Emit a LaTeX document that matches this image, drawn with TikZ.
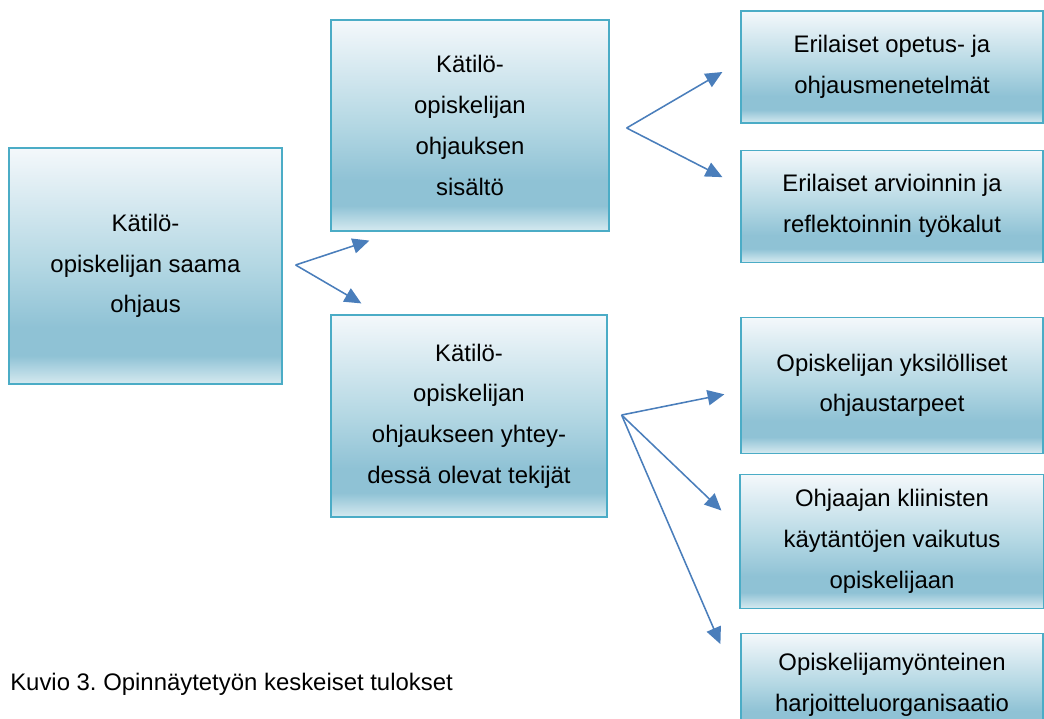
\documentclass[tikz,border=0pt]{standalone}
\usepackage{fontspec}
\setmainfont{Liberation Sans}
\usepackage{tikz}
\usetikzlibrary{arrows.meta, calc, positioning}
\definecolor{boxline}{HTML}{4BACC6}
\definecolor{arrowblue}{HTML}{4A7EBB}
\definecolor{shtop}{HTML}{F4F8FB}
\definecolor{shmid}{HTML}{B3D7E3}
\definecolor{shdark}{HTML}{8FC2D5}
\definecolor{shbot}{HTML}{D6EAF0}
\pgfdeclareverticalshading{boxshade}{100bp}{color(0bp)=(shbot); color(25bp)=(shbot);
    color(31bp)=(shdark); color(37bp)=(shdark); color(50bp)=(shmid); color(75bp)=(shtop);
    color(100bp)=(shtop)}
\tikzset{
    box/.style={rectangle, draw=boxline, line width=0.8pt, shade, shading=boxshade,
        align=center, inner sep=0pt, font=\fontsize{17}{29}\selectfont},
    smallbox/.style={box, minimum width=7.55cm, minimum height=2.8cm},
    arrow/.style={-{Triangle[length=4.2mm, width=3.8mm]}, draw=arrowblue, line width=1.1pt},
    caption/.style={anchor=base west, inner sep=0pt, font=\fontsize{17}{20}\selectfont},
}
\begin{document}
\begin{tikzpicture}[x=0.025cm, y=-0.025cm, node distance=0.65cm]
    \useasboundingbox (0,0) rectangle (1044,718);
    \clip (0,0) rectangle (1044,718);
    \node[box, minimum width=6.825cm, minimum height=5.9cm] (saama) at (145.5,266) {
        Kätilö-\\opiskelijan saama\\ohjaus
    };
    \node[box, minimum width=6.95cm, minimum height=5.275cm] (sisalto) at (470,125.5) {
        Kätilö-\\opiskelijan\\ohjauksen\\sisältö
    };
    \node[box, minimum width=6.9cm, minimum height=5.05cm] (tekijat) at (469,416) {
        Kätilö-\\opiskelijan\\ohjaukseen yhtey-\\dessä olevat tekijät
    };
    \node[smallbox] (menetelmat) at (892,67) {
        Erilaiset opetus- ja\\ohjausmenetelmät
    };
    \node[smallbox, below=of menetelmat] (tyokalut) {
        Erilaiset arvioinnin ja\\reflektoinnin työkalut
    };
    \node[smallbox, minimum height=3.4cm, below=1.35cm of tyokalut] (tarpeet) {
        Opiskelijan yksilölliset\\ohjaustarpeet
    };
    \node[smallbox, minimum width=7.6cm, minimum height=3.35cm, below=0.5cm of tarpeet] (kaytannot) {
        Ohjaajan kliinisten\\käytäntöjen vaikutus\\opiskelijaan
    };
    \node[smallbox, minimum height=2.55cm, below=0.6cm of kaytannot] (organisaatio) {
        Opiskelijamyönteinen\\harjoitteluorganisaatio
    };
    \node[caption] (kuvio) at (10,690) {Kuvio 3.\ Opinnäytetyön keskeiset tulokset};
    \coordinate (forkA) at ($(saama.east)+(13,-1)$);
    \coordinate (forkB) at ($(sisalto.east)+(17,2.5)$);
    \coordinate (forkC) at ($(tekijat.east)+(14,-1)$);
    \draw[arrow] (forkA) -- ($(sisalto.south west)+(39,9)$);
    \draw[arrow] (forkA) -- ($(tekijat.north west)+(31,-11)$);
    \draw[arrow] (forkB) -- ($(menetelmat.west)+(-18,5)$);
    \draw[arrow] (forkB) -- ($(tyokalut.west)+(-18,-29)$);
    \draw[arrow] (forkC) -- ($(tarpeet.west)+(-16,9)$);
    \draw[arrow] (forkC) -- ($(kaytannot.west)+(-18,-31)$);
    \draw[arrow] (forkC) -- ($(organisaatio.north west)+(-20,11)$);
\end{tikzpicture}
\end{document}
